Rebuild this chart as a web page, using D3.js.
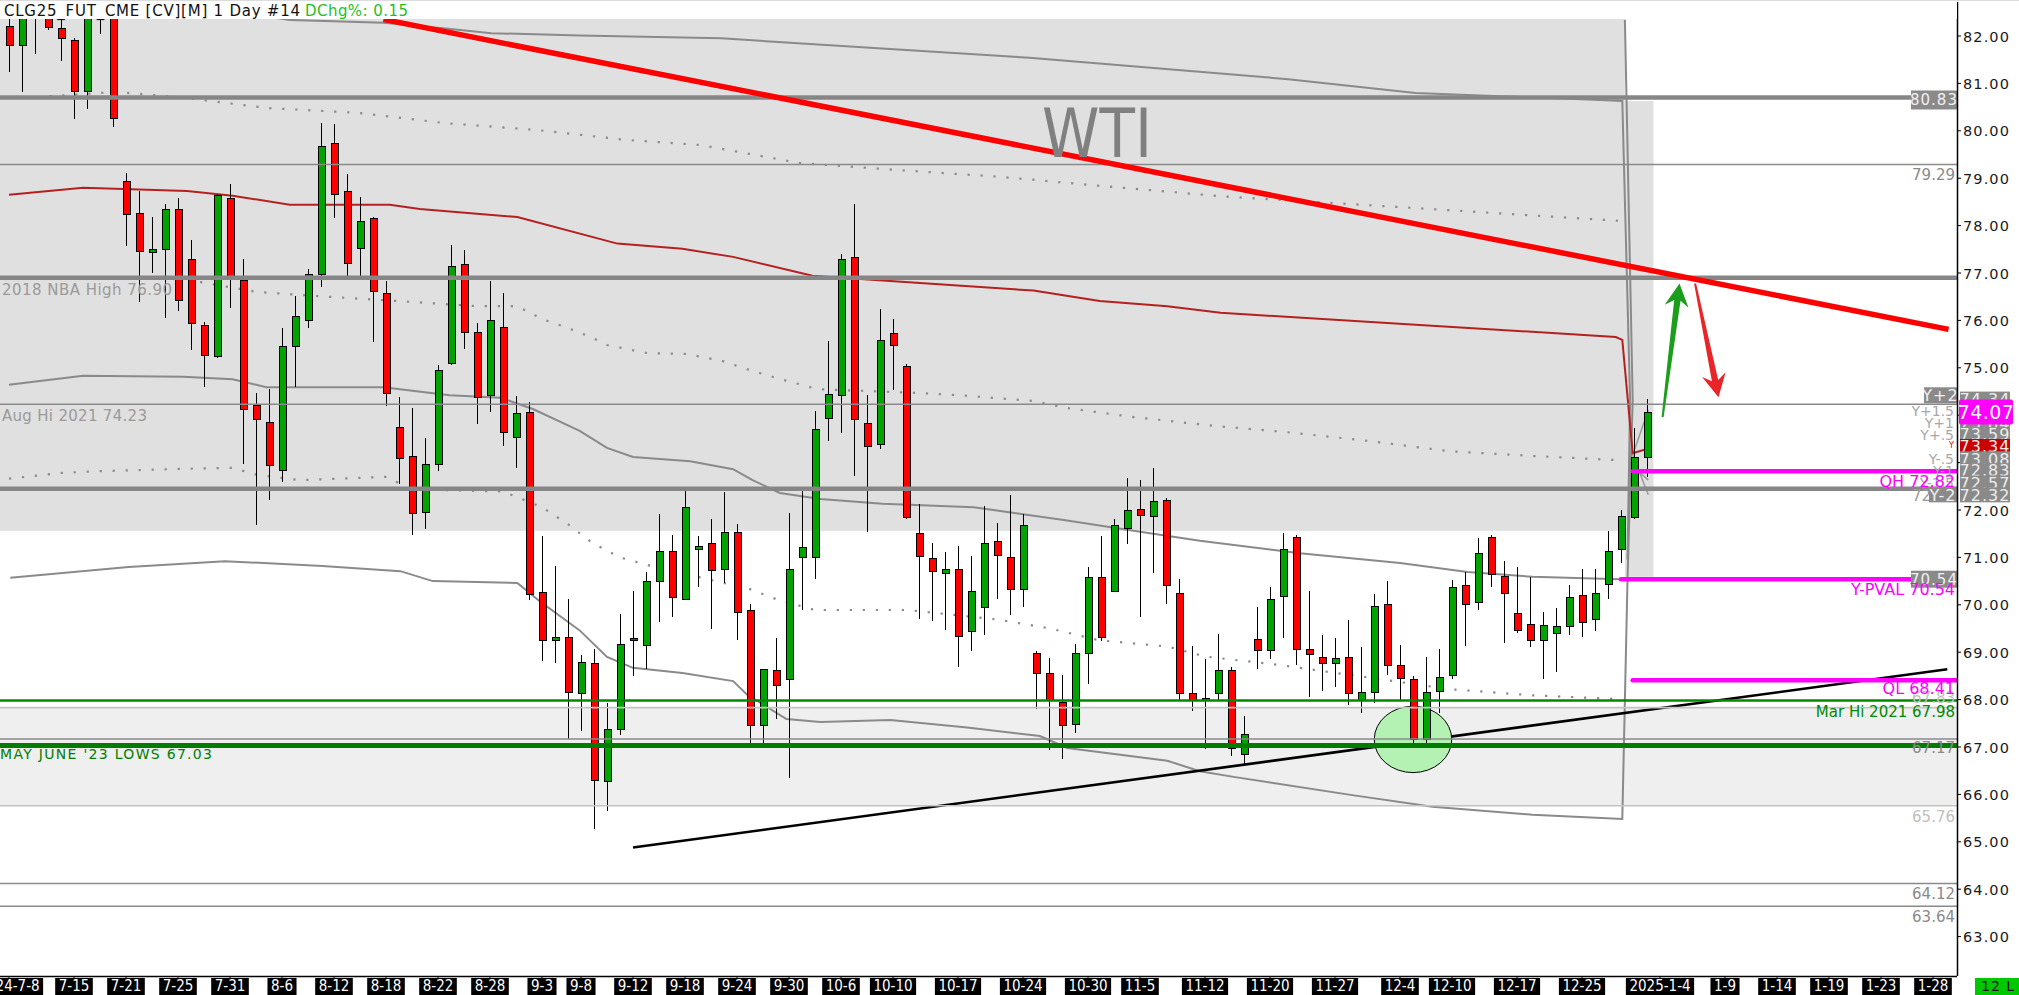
<!DOCTYPE html>
<html>
<head>
<meta charset="utf-8">
<script src="https://cdn.jsdelivr.net/npm/d3@7"></script>
<style>
  html, body { margin: 0; padding: 0; background: #fff; overflow: hidden; }
  svg { display: block; }
  text { font-family: "DejaVu Sans", sans-serif; }
</style>
</head>
<body>
<svg id="chart" width="2019" height="995"></svg>
<script>
// daily candles, bar index 0 = 2024-07-08
const opens = [82.19,81.80,82.50,82.42,82.16,81.91,80.82,82.90,82.70,78.93,78.26,77.44,77.50,78.34,77.29,75.89,75.23,78.58,76.84,74.21,
  73.85,72.83,75.45,76.00,76.97,79.74,78.72,77.52,78.16,76.57,73.73,73.12,71.94,72.95,75.09,77.18,75.75,74.42,75.86,73.52,
  74.06,70.26,69.25,69.31,68.12,68.77,66.28,67.37,69.29,69.14,70.50,71.13,70.12,71.17,71.29,70.74,71.52,69.88,67.45,68.61,
  68.42,71.00,70.99,73.93,74.41,77.33,73.82,73.38,75.72,75.03,71.51,70.98,70.67,70.74,69.44,69.95,71.34,70.99,70.32,68.98,
  68.56,67.94,67.47,68.97,70.58,70.28,71.61,72.01,71.87,72.20,70.24,68.13,67.99,68.12,68.61,66.85,69.27,69.03,70.17,71.42,
  69.06,68.89,68.77,68.89,67.98,68.15,70.01,68.72,68.43,67.16,68.17,68.50,70.41,70.05,71.42,70.59,69.82,69.59,69.24,69.40,
  69.54,70.19,69.68,70.42,71.16,71.85,73.11];
const highs = [82.60,82.90,83.00,82.60,82.35,81.95,82.80,83.20,82.90,79.12,78.73,78.18,78.46,78.59,77.70,75.96,78.67,78.88,77.30,74.47,
  74.56,75.84,76.52,77.09,80.16,80.15,79.09,78.60,78.18,76.83,74.38,74.15,73.52,75.05,77.59,77.48,75.94,76.84,76.58,74.41,
  74.27,71.45,70.82,70.12,68.95,69.07,67.93,69.80,70.30,70.70,71.92,71.48,72.42,71.45,71.81,72.39,71.71,70.01,68.65,69.31,
  71.94,72.42,74.09,75.56,77.40,78.46,74.43,76.24,76.03,75.08,72.13,71.31,71.12,71.23,71.02,72.08,71.72,72.32,71.91,69.02,
  68.88,68.51,69.17,70.79,71.46,71.80,72.67,72.63,72.89,72.25,70.55,69.14,68.86,69.38,68.68,67.65,69.95,70.37,71.51,71.47,
  70.29,69.36,69.30,69.68,69.12,70.22,70.50,69.15,68.50,68.89,69.06,70.52,70.70,71.41,71.47,70.92,70.79,70.59,69.84,69.93,
  70.41,70.75,70.75,71.56,72.01,73.72,74.34];
const lows = [81.25,80.82,81.63,82.12,81.48,80.24,80.45,82.04,80.08,77.56,76.39,77.00,76.05,76.20,75.38,74.60,75.20,76.26,72.98,71.68,
  72.21,72.59,74.60,75.84,76.71,78.16,76.92,76.92,75.55,74.19,72.55,71.47,71.59,72.83,75.05,75.40,73.82,74.06,73.36,72.89,
  70.11,68.81,68.77,67.16,67.33,65.28,65.64,67.26,68.50,68.65,69.63,69.74,70.12,70.38,69.50,70.46,69.25,67.05,67.07,67.59,
  66.34,69.89,70.54,73.45,73.63,72.71,71.54,73.29,74.53,71.82,69.71,69.65,69.46,68.69,69.02,69.36,70.13,69.78,69.96,67.80,
  66.93,66.74,67.30,68.32,69.24,70.27,71.29,69.74,70.67,70.01,67.96,67.75,66.95,67.98,66.82,66.63,68.65,68.86,69.29,68.73,
  68.06,68.19,68.27,67.89,67.72,67.92,68.52,67.96,67.06,67.09,67.72,68.44,69.14,69.88,70.38,69.19,69.40,69.10,68.43,68.59,
  69.36,69.33,69.45,70.12,70.88,71.80,72.70];
const closes = [81.80,82.55,82.75,82.17,81.95,80.82,82.60,82.60,80.25,78.24,77.45,77.50,78.34,76.43,75.94,75.26,78.64,76.92,74.13,73.91,
  72.94,75.45,76.09,76.97,79.66,78.65,77.20,78.09,76.60,74.45,73.09,71.93,72.96,74.95,77.14,75.75,74.38,76.00,73.64,74.04,
  70.22,69.25,69.31,68.15,68.78,66.30,67.37,69.16,69.24,70.50,71.13,70.16,72.05,71.24,70.72,71.52,69.84,67.46,68.63,68.29,
  70.74,71.20,73.70,74.43,77.29,73.90,73.35,75.57,75.48,71.84,71.02,70.71,70.74,69.33,70.28,71.30,71.04,70.32,71.67,68.56,
  67.98,67.46,68.97,70.58,69.32,71.67,71.99,71.89,72.18,70.41,68.13,67.98,68.03,68.61,66.96,67.26,69.03,70.12,71.17,69.06,
  68.96,68.77,68.87,68.13,68.15,69.96,68.72,68.45,67.16,68.15,68.47,70.37,70.01,71.09,70.64,70.24,69.45,69.24,69.56,69.54,
  70.16,69.63,70.24,71.12,71.86,73.10,74.06];

// date axis
const tickLabels = ["2024-7-8","7-15","7-21","7-25","7-31","8-6","8-12","8-18","8-22","8-28","9-3","9-8","9-12","9-18","9-24",
  "9-30","10-6","10-10","10-17","10-24","10-30","11-5","11-12","11-20","11-27","12-4","12-10","12-17","12-25","2025-1-4",
  "1-9","1-14","1-19","1-23","1-28"];
const tickBars = [0,5,9,13,17,21,25,29,33,37,41,44,48,52,56,60,64,68,73,78,83,87,92,97,102,107,111,116,121,127,132,136,140,144,148];
const priceTicks = [63,64,65,66,67,68,69,70,71,72,73,74,75,76,77,78,79,80,81,82];

// overlay lines as [bar, price]
const redMa = [[0,78.65],[5.7,78.80],[13.7,78.73],[17.2,78.63],[21.6,78.44],[29.3,78.44],[31.6,78.35],[39.1,78.18],[46.8,77.62],
  [51.8,77.51],[55.7,77.34],[61.8,76.94],[69.5,76.80],[78.8,76.63],[83.9,76.41],[89.1,76.30],[93.2,76.16],[108.2,75.91],
  [123.6,75.65],[124.1,75.59],[124.9,73.20],[125.8,73.27]];
const upperBand = [[15,82.60],[21.6,82.34],[28.8,82.28],[33.6,82.16],[37.1,82.06],[43.9,82.01],[54.8,81.95],[78.5,81.54],
  [98.4,81.09],[108.2,80.80],[122.4,80.65],[124.1,80.63],[124.7,74.32],[124.5,70.95]];
const midBand = [[0,74.64],[5.7,74.83],[13.4,74.81],[17.2,74.76],[19.8,74.59],[28.8,74.59],[33.9,74.42],[37.8,74.37],[40.3,74.13],
  [43.9,73.67],[46.0,73.31],[48.0,73.12],[52.4,73.03],[55.7,72.86],[57.2,72.63],[59.3,72.36],[62.4,72.23],[67.2,72.13],
  [74.2,72.06],[81.4,71.78],[86.5,71.56],[91.6,71.35],[99.3,71.09],[107.0,70.88],[112.2,70.69],[117.2,70.59],[123.9,70.54]];
const lowerBand = [[0.1,70.57],[9.2,70.80],[16.6,70.92],[24.1,70.82],[30.1,70.71],[32.6,70.50],[39.1,70.46],[40.8,70.08],
  [43.9,69.46],[46.0,68.90],[48.0,68.67],[51.8,68.56],[55.7,68.39],[56.8,68.10],[59.8,67.59],[62.4,67.53],[67.8,67.57],
  [73.7,67.41],[79.3,67.23],[81.4,66.98],[89.1,66.71],[91.6,66.49],[94.2,66.37],[103.2,65.99],[109.5,65.74],[117.2,65.57],
  [124.1,65.48],[124.5,70.52],[124.9,74.32],[124.3,82.34]];
const dotsUpper = [[2.1,80.71],[8.2,80.82],[13.1,80.71],[19.9,80.48],[26.8,80.38],[33.6,80.16],[40.5,80.02],[47.4,79.81],
  [53.2,79.70],[60.8,79.32],[68.5,79.17],[76.2,79.03],[83.9,78.84],[93.2,78.62],[108.2,78.37],[123.9,78.10]];
const dotsMid = [[14.7,76.81],[19.1,76.60],[23.9,76.51],[31.0,76.39],[36.0,76.30],[39.1,76.30],[41.0,76.03],[43.0,75.84],
  [44.9,75.63],[46.0,75.48],[49.1,75.31],[52.2,75.29],[54.9,75.14],[57.0,74.95],[59.1,74.78],[62.2,74.55],[69.9,74.47],
  [73.7,74.41],[78.8,74.30],[81.4,74.15],[86.5,73.96],[92.9,73.77],[98.0,73.65],[104.5,73.46],[110.8,73.24],[117.2,73.14],
  [123.9,73.05]];
const dotsLower = [[0,72.66],[3.9,72.78],[7.0,72.82],[12.2,72.86],[17.2,72.89],[19.1,72.74],[22.4,72.63],[29.1,72.70],
  [30.8,72.44],[38.0,72.39],[41.0,72.06],[43.0,71.70],[44.9,71.30],[47.0,71.00],[49.1,70.84],[57.0,70.33],[59.1,70.11],
  [62.0,69.89],[69.1,69.89],[76.0,69.69],[80.1,69.50],[82.2,69.36],[83.9,69.25],[89.1,69.12],[92.0,68.91],[98.0,68.72],
  [106.0,68.41],[110.8,68.22],[117.2,68.09],[123.9,68.01]];
const fanLines = [[[124.9,73.16],[126.1,74.11]],[[124.9,73.16],[126.1,72.32]],[[125.0,72.90],[126.1,72.63]]];

// drawn trendlines and annotations
const downTrend = [[28.8,82.35],[149.2,75.81]];
const upTrend = [[48.0,64.88],[149.1,68.64]];
const upArrow = [[127.2,73.96],[128.5,76.78]];
const downArrow = [[129.7,76.78],[131.5,74.38]];
const circleMark = [108.0, 67.16, 2.98, 0.70];

// shaded zones
const zoneBars = [[-1,124.3],[124.3,126.5]];
const zonePrices = [[71.56,82.5],[70.59,80.63]];
const lowBand = [65.76, 67.83];

// price levels
const thickGray = [80.70, 76.90, 72.45];
const thinGray = [79.29, 74.23, 67.17, 64.12, 63.64];
const lightGray = [67.83, 65.76];
const marHi = 67.98, mayLows = 67.03;
const quarterNames = ["QH", "Y-PVAL", "QL"];
const quarterValues = [72.82, 70.54, 68.41];
const quarterFrom = [124.9, 124.0, 124.9];
const leftNames = ["2018 NBA High  76.90", "Aug Hi 2021  74.23", "MAY JUNE '23 LOWS  67.03"];
const leftValues = [76.90, 74.23, 67.03];
const yNames = ["Y+2","Y+1.5","Y+1","Y+.5","Y","Y-.5","Y-1","Y-1.5","Y-2"];
const yValues = [74.34, 74.09, 73.84, 73.59, 73.34, 73.08, 72.83, 72.57, 72.32];
const lastPrice = 74.07;

const plotRight = 1957, plotTop = 19, plotBottom = 976;
const x = d3.scaleLinear().domain([0, 148]).range([9, 1933]);
const y = d3.scaleLinear().domain([63, 82]).range([936.6, 36]);
const line = d3.line().x(d => x(d[0])).y(d => y(d[1]));
const boxFont = '"Liberation Sans", Arial, sans-serif';

const svg = d3.select('#chart');
svg.append('rect').attr('width', 2019).attr('height', 995).attr('fill', '#fff');
svg.append('defs').append('clipPath').attr('id', 'plot')
  .append('rect').attr('x', 0).attr('y', plotTop).attr('width', plotRight).attr('height', plotBottom - plotTop);

const g = svg.append('g').attr('clip-path', 'url(#plot)');

// shaded boxes
g.selectAll('.zone').data(zoneBars).join('rect')
  .attr('x', d => x(d[0]))
  .attr('width', d => x(d[1]) - x(d[0]))
  .attr('y', (d, i) => y(zonePrices[i][1]))
  .attr('height', (d, i) => y(zonePrices[i][0]) - y(zonePrices[i][1]))
  .attr('fill', '#e0e0e0');
g.append('rect')
  .attr('x', 0).attr('width', plotRight)
  .attr('y', y(lowBand[1])).attr('height', y(lowBand[0]) - y(lowBand[1]))
  .attr('fill', '#efefef');

// bands and averages
[upperBand, midBand, lowerBand].forEach(pts => {
  g.append('path').datum(pts).attr('d', line)
    .attr('fill', 'none').attr('stroke', '#8a8a8a').attr('stroke-width', 2);
});
[dotsUpper, dotsMid, dotsLower].forEach(pts => {
  g.append('path').datum(pts).attr('d', line)
    .attr('fill', 'none').attr('stroke', '#8a8a8a').attr('stroke-width', 2.2)
    .attr('stroke-dasharray', '2.2,10.8');
});
fanLines.forEach(pts => {
  g.append('path').datum(pts).attr('d', line)
    .attr('fill', 'none').attr('stroke', '#999').attr('stroke-width', 1.5);
});
g.append('path').datum(redMa).attr('d', line)
  .attr('fill', 'none').attr('stroke', '#b52020').attr('stroke-width', 2);

// support trendline + circle
g.append('path').datum(upTrend).attr('d', line)
  .attr('fill', 'none').attr('stroke', '#000').attr('stroke-width', 2.6);
g.append('ellipse')
  .attr('cx', x(circleMark[0])).attr('cy', y(circleMark[1]))
  .attr('rx', x(circleMark[2]) - x(0)).attr('ry', y(0) - y(circleMark[3]))
  .attr('fill', '#b4f2b4').attr('stroke', '#000').attr('stroke-width', 1);

// candles
const bars = g.append('g').attr('shape-rendering', 'crispEdges');
const idx = d3.range(opens.length);
bars.selectAll('.wick').data(idx).join('line')
  .attr('x1', i => Math.round(x(i)) + 0.5).attr('x2', i => Math.round(x(i)) + 0.5)
  .attr('y1', i => y(highs[i])).attr('y2', i => y(lows[i]))
  .attr('stroke', '#000').attr('stroke-width', 1.2);
bars.selectAll('.body').data(idx).join('rect')
  .attr('x', i => Math.round(x(i)) - 3)
  .attr('width', 7)
  .attr('y', i => y(Math.max(opens[i], closes[i])))
  .attr('height', i => Math.max(2, Math.abs(y(opens[i]) - y(closes[i]))))
  .attr('fill', i => closes[i] >= opens[i] ? '#00a300' : '#ff0000')
  .attr('stroke', '#000').attr('stroke-width', 1);

// horizontal levels
const hline = (v, color, w) => g.append('line')
  .attr('x1', 0).attr('x2', plotRight).attr('y1', y(v)).attr('y2', y(v))
  .attr('stroke', color).attr('stroke-width', w);
lightGray.forEach(v => hline(v, '#c4c4c4', 1.6));
thinGray.forEach(v => hline(v, '#8a8a8a', 1.6));
thickGray.forEach(v => hline(v, '#868686', 4.5));
hline(marHi, '#008a00', 2.6);
hline(mayLows, '#007d00', 5);
quarterValues.forEach((v, i) => {
  g.append('line')
    .attr('x1', x(quarterFrom[i])).attr('x2', plotRight).attr('y1', y(v)).attr('y2', y(v))
    .attr('stroke', '#ff00ff').attr('stroke-width', 4.5).attr('stroke-linecap', 'round');
});

// resistance trendline
g.append('path').datum(downTrend).attr('d', line)
  .attr('fill', 'none').attr('stroke', '#ff0000').attr('stroke-width', 5.5);

// hand-drawn arrows
function arrow(pts, color) {
  const p0 = [x(pts[0][0]), y(pts[0][1])], p1 = [x(pts[1][0]), y(pts[1][1])];
  const dx = p1[0] - p0[0], dy = p1[1] - p0[1], len = Math.hypot(dx, dy);
  const u = [dx / len, dy / len], n = [-u[1], u[0]];
  const at = (p, a, b) => [p[0] + u[0] * a + n[0] * b, p[1] + u[1] * a + n[1] * b];
  const poly = [at(p0, 0, 1), at(p1, -17, 3.2), at(p1, -23, 12), p1, at(p1, -23, -12), at(p1, -17, -3.2), at(p0, 0, -1)];
  g.append('polygon').attr('points', poly.map(p => p.join(',')).join(' ')).attr('fill', color);
}
arrow(upArrow, '#1b9e1b');
arrow(downArrow, '#e8262a');

// WTI watermark
g.append('text').attr('x', 1097).attr('y', 157).attr('text-anchor', 'middle')
  .attr('font-family', 'Liberation Sans, Arial, sans-serif').attr('font-size', 68)
  .attr('textLength', 110).attr('lengthAdjust', 'spacingAndGlyphs')
  .attr('fill', '#808080').text('WTI');

// left-side level names
const leftWidths = [170, 145, 212];
leftNames.forEach((t, i) => {
  const green = i === 2;
  g.append('text').attr('x', green ? 0 : 2)
    .attr('y', y(leftValues[i]) + (green ? 13.5 : 17))
    .attr('font-size', green ? 14 : 15)
    .attr('textLength', leftWidths[i]).attr('lengthAdjust', 'spacing')
    .attr('fill', green ? '#008000' : '#9a9a9a')
    .text(t);
});

// right-side level notes (drawn right-aligned against the axis)
const note = (t, v, dy, color, size) => svg.append('text')
  .attr('x', plotRight - 2).attr('y', y(v) + dy).attr('text-anchor', 'end')
  .attr('font-size', size || 15).attr('fill', color).text(t);
note(thinGray[0].toFixed(2), thinGray[0], 15.5, '#8a8a8a');
note(lightGray[0].toFixed(2), lightGray[0], -5, '#c0c0c0');
note(thinGray[2].toFixed(2), thinGray[2], 14, '#8a8a8a');
note(lightGray[1].toFixed(2), lightGray[1], 16, '#c0c0c0');
note(thinGray[3].toFixed(2), thinGray[3], 15.7, '#8a8a8a');
note(thinGray[4].toFixed(2), thinGray[4], 15.5, '#8a8a8a');
note('Mar Hi 2021  ' + marHi.toFixed(2), marHi, 16, '#008a00');

// value boxes
function valueBox(x0, w, v, label, fill, color, size, h, font) {
  h = h || 16;
  svg.append('rect').attr('x', x0).attr('y', y(v) - h / 2).attr('width', w).attr('height', h).attr('fill', fill);
  svg.append('text').attr('x', x0 + w / 2).attr('y', y(v) + size * 0.36)
    .attr('text-anchor', 'middle').attr('font-size', size).attr('fill', color)
    .attr('font-family', font || null)
    .attr('letter-spacing', 1).text(label);
}
valueBox(1911, 46, 80.65, '80.83', '#8a8a8a', '#f0f0f0', 15, 19);
valueBox(1911, 46, quarterValues[1], quarterValues[1].toFixed(2), '#8a8a8a', '#f0f0f0', 15, 17);
note(thickGray[2].toFixed(2), 72.32, 6, '#9a9a9a');

// Y-levels: texts left of axis
yNames.forEach((t, i) => {
  if (i === 0 || i === 8) return;
  svg.append('text').attr('x', plotRight - 3).attr('y', y(yValues[i]) + (i === 4 ? 2 : 5))
    .attr('text-anchor', 'end').attr('font-size', i === 4 ? 8 : 14)
    .attr('fill', i === 4 ? '#e00000' : '#a8a8a8').text(t);
});
valueBox(1924, 33, yValues[0] + 0.08, yNames[0], '#8a8a8a', '#f0f0f0', 16, 16, boxFont);
valueBox(1929, 28, yValues[8], yNames[8], '#8a8a8a', '#f0f0f0', 16, 15, boxFont);

quarterValues.forEach((v, i) => {
  note(quarterNames[i] + '  ' + v.toFixed(2), v, i === 2 ? 14 : 15.5, '#ff00ff', 16);
});

// axes
svg.append('line').attr('x1', plotRight + 0.5).attr('x2', plotRight + 0.5).attr('y1', 2).attr('y2', plotBottom)
  .attr('stroke', '#000').attr('stroke-width', 1.5);
svg.append('line').attr('x1', 0).attr('x2', plotRight).attr('y1', plotBottom + 0.5).attr('y2', plotBottom + 0.5)
  .attr('stroke', '#000').attr('stroke-width', 1.5);
svg.append('line').attr('x1', 0).attr('x2', 2019).attr('y1', 0.5).attr('y2', 0.5).attr('stroke', '#dcdcdc');

const yAxis = svg.append('g');
priceTicks.forEach(v => {
  yAxis.append('line').attr('x1', plotRight).attr('x2', plotRight + 4).attr('y1', y(v)).attr('y2', y(v)).attr('stroke', '#000');
  yAxis.append('text').attr('x', plotRight + 6).attr('y', y(v) + 5.5)
    .attr('font-size', 14.5).attr('letter-spacing', 1.1).attr('fill', '#1a1a1a').text(v.toFixed(2));
});

// Y-levels: value boxes right of axis
yValues.forEach((v, i) => {
  valueBox(plotRight + 3, 50, v, v.toFixed(2), i === 4 ? '#c80000' : '#8a8a8a', '#ececec', 16, 15, boxFont);
});
svg.append('rect').attr('x', plotRight + 2).attr('y', y(lastPrice) - 12.5).attr('width', 54).attr('height', 25)
  .attr('rx', 2).attr('fill', '#ff00ff');
svg.append('text').attr('x', plotRight + 29).attr('y', y(lastPrice) + 7).attr('text-anchor', 'middle')
  .attr('font-family', boxFont).attr('font-size', 19).attr('letter-spacing', 0.4).attr('fill', '#fff')
  .text(lastPrice.toFixed(2));

// date axis labels
const xAxis = svg.append('g');
tickLabels.forEach((t, i) => {
  const cx = x(tickBars[i]);
  xAxis.append('line').attr('x1', cx).attr('x2', cx).attr('y1', plotBottom).attr('y2', plotBottom + 4).attr('stroke', '#000');
  const txt = xAxis.append('text').attr('x', cx).attr('y', 991).attr('text-anchor', 'middle')
    .attr('font-family', '"Liberation Sans Narrow", "DejaVu Sans Condensed", sans-serif')
    .attr('font-stretch', 'condensed').attr('font-size', 15).attr('fill', '#fff').text(t);
  const w = txt.node().getComputedTextLength() + 7;
  xAxis.insert('rect', 'text').attr('x', cx - w / 2).attr('y', 978).attr('width', w).attr('height', 17).attr('fill', '#000');
});
svg.append('rect').attr('x', 1975).attr('y', 978).attr('width', 44).attr('height', 17).attr('fill', '#00c800');
svg.append('text').attr('x', 1981).attr('y', 991).attr('font-size', 14).attr('letter-spacing', 1).attr('fill', '#111').text('12 L');

// header
svg.append('rect').attr('x', 0).attr('y', 1).attr('width', plotRight).attr('height', plotTop - 1).attr('fill', '#fff');
svg.append('text').attr('x', 4).attr('y', 15.5).attr('font-size', 15)
  .attr('textLength', 296).attr('lengthAdjust', 'spacing').attr('fill', '#111')
  .text('CLG25_FUT_CME [CV][M]  1 Day #14');
svg.append('text').attr('x', 305).attr('y', 15.5).attr('font-size', 15)
  .attr('textLength', 103).attr('lengthAdjust', 'spacing').attr('fill', '#1fbf1f')
  .text('DChg%: 0.15');
</script>
</body>
</html>
